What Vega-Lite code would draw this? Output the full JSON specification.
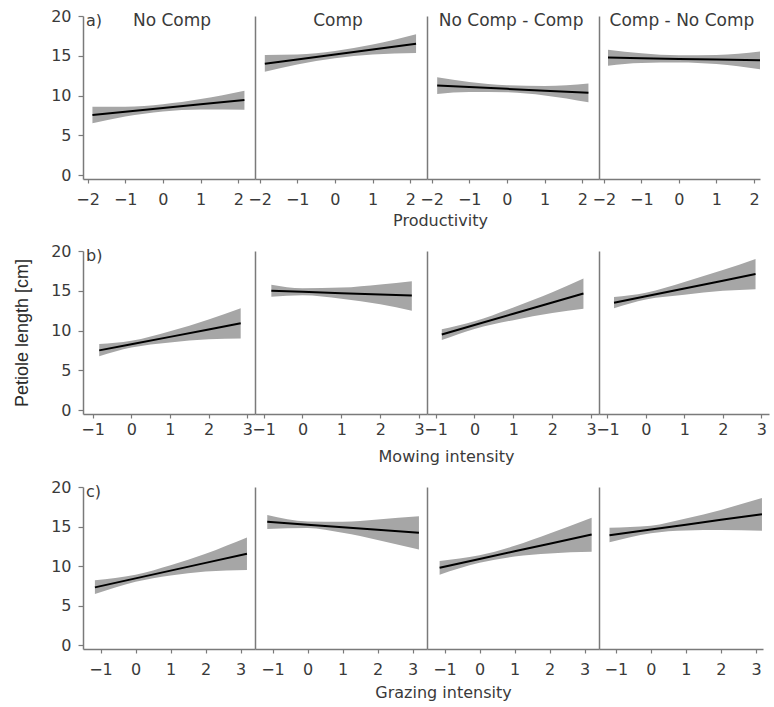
{
  "$schema": "https://vega.github.io/schema/vega-lite/v6.json",
  "padding": {"left": 13, "top": 8, "right": 4, "bottom": 5},
  "background": "white",
  "config": {
    "view": {"stroke": null},
    "axis": {"grid": false, "domainColor": "#7a7a7a", "domainWidth": 1.5, "tickColor": "#7a7a7a", "tickWidth": 1.2, "labelColor": "#3a3a3a", "labelFont": "DejaVu Sans", "labelFontSize": 16, "titleFont": "DejaVu Sans", "titleFontSize": 16, "titleFontWeight": "normal", "titleColor": "#3a3a3a", "labelFlush": false, "labelOverlap": false, "tickSize": 4},
    "text": {"font": "DejaVu Sans", "color": "#3a3a3a"}
  },
  "datasets": {
    "d": [
      {"r": "a", "p": "No Comp", "x": -1.87, "fit": 7.56, "lo": 6.5, "hi": 8.6},
      {"r": "a", "p": "No Comp", "x": -1, "fit": 7.97, "lo": 7.35, "hi": 8.6},
      {"r": "a", "p": "No Comp", "x": 0, "fit": 8.44, "lo": 8.0, "hi": 8.9},
      {"r": "a", "p": "No Comp", "x": 1, "fit": 8.9, "lo": 8.25, "hi": 9.55},
      {"r": "a", "p": "No Comp", "x": 2.16, "fit": 9.45, "lo": 8.2, "hi": 10.6},
      {"r": "a", "p": "Comp", "x": -1.86, "fit": 14.0, "lo": 13.0, "hi": 15.1},
      {"r": "a", "p": "Comp", "x": -1, "fit": 14.53, "lo": 13.9, "hi": 15.15},
      {"r": "a", "p": "Comp", "x": 0, "fit": 15.15, "lo": 14.7, "hi": 15.6},
      {"r": "a", "p": "Comp", "x": 1, "fit": 15.78, "lo": 15.15, "hi": 16.4},
      {"r": "a", "p": "Comp", "x": 2.15, "fit": 16.5, "lo": 15.35, "hi": 17.7},
      {"r": "a", "p": "No Comp - Comp", "x": -1.85, "fit": 11.27, "lo": 10.2, "hi": 12.3},
      {"r": "a", "p": "No Comp - Comp", "x": -1, "fit": 11.07, "lo": 10.45, "hi": 11.7},
      {"r": "a", "p": "No Comp - Comp", "x": 0, "fit": 10.84, "lo": 10.4, "hi": 11.3},
      {"r": "a", "p": "No Comp - Comp", "x": 1, "fit": 10.61, "lo": 10.0, "hi": 11.2},
      {"r": "a", "p": "No Comp - Comp", "x": 2.16, "fit": 10.34, "lo": 9.15, "hi": 11.5},
      {"r": "a", "p": "Comp - No Comp", "x": -1.89, "fit": 14.77, "lo": 13.75, "hi": 15.75},
      {"r": "a", "p": "Comp - No Comp", "x": -1, "fit": 14.69, "lo": 14.1, "hi": 15.3},
      {"r": "a", "p": "Comp - No Comp", "x": 0, "fit": 14.6, "lo": 14.15, "hi": 15.05},
      {"r": "a", "p": "Comp - No Comp", "x": 1, "fit": 14.52, "lo": 13.95, "hi": 15.1},
      {"r": "a", "p": "Comp - No Comp", "x": 2.16, "fit": 14.43, "lo": 13.3, "hi": 15.55},
      {"r": "b", "p": "No Comp", "x": -0.83, "fit": 7.5, "lo": 6.75, "hi": 8.3},
      {"r": "b", "p": "No Comp", "x": 0, "fit": 8.27, "lo": 7.85, "hi": 8.7},
      {"r": "b", "p": "No Comp", "x": 1, "fit": 9.2, "lo": 8.5, "hi": 9.9},
      {"r": "b", "p": "No Comp", "x": 2, "fit": 10.13, "lo": 8.9, "hi": 11.4},
      {"r": "b", "p": "No Comp", "x": 2.83, "fit": 10.9, "lo": 9.0, "hi": 12.8},
      {"r": "b", "p": "Comp", "x": -0.8, "fit": 15.0, "lo": 14.25, "hi": 15.75},
      {"r": "b", "p": "Comp", "x": 0, "fit": 14.87, "lo": 14.45, "hi": 15.3},
      {"r": "b", "p": "Comp", "x": 1, "fit": 14.7, "lo": 14.0, "hi": 15.4},
      {"r": "b", "p": "Comp", "x": 2, "fit": 14.53, "lo": 13.3, "hi": 15.8},
      {"r": "b", "p": "Comp", "x": 2.81, "fit": 14.4, "lo": 12.5, "hi": 16.2},
      {"r": "b", "p": "No Comp - Comp", "x": -0.84, "fit": 9.5, "lo": 8.8, "hi": 10.15},
      {"r": "b", "p": "No Comp - Comp", "x": 0, "fit": 10.69, "lo": 10.2, "hi": 11.15},
      {"r": "b", "p": "No Comp - Comp", "x": 1, "fit": 12.11, "lo": 11.3, "hi": 12.9},
      {"r": "b", "p": "No Comp - Comp", "x": 2, "fit": 13.53, "lo": 12.2, "hi": 14.8},
      {"r": "b", "p": "No Comp - Comp", "x": 2.8, "fit": 14.66, "lo": 12.75, "hi": 16.55},
      {"r": "b", "p": "Comp - No Comp", "x": -0.83, "fit": 13.5, "lo": 12.8, "hi": 14.2},
      {"r": "b", "p": "Comp - No Comp", "x": 0, "fit": 14.31, "lo": 13.9, "hi": 14.75},
      {"r": "b", "p": "Comp - No Comp", "x": 1, "fit": 15.29, "lo": 14.5, "hi": 16.1},
      {"r": "b", "p": "Comp - No Comp", "x": 2, "fit": 16.27, "lo": 15.0, "hi": 17.6},
      {"r": "b", "p": "Comp - No Comp", "x": 2.85, "fit": 17.1, "lo": 15.2, "hi": 19.0},
      {"r": "c", "p": "No Comp", "x": -1.16, "fit": 7.3, "lo": 6.45, "hi": 8.2},
      {"r": "c", "p": "No Comp", "x": 0, "fit": 8.44, "lo": 8.0, "hi": 8.9},
      {"r": "c", "p": "No Comp", "x": 1, "fit": 9.42, "lo": 8.8, "hi": 10.1},
      {"r": "c", "p": "No Comp", "x": 2, "fit": 10.4, "lo": 9.3, "hi": 11.55},
      {"r": "c", "p": "No Comp", "x": 3.18, "fit": 11.55, "lo": 9.5, "hi": 13.6},
      {"r": "c", "p": "Comp", "x": -1.15, "fit": 15.6, "lo": 14.7, "hi": 16.45},
      {"r": "c", "p": "Comp", "x": 0, "fit": 15.23, "lo": 14.8, "hi": 15.65},
      {"r": "c", "p": "Comp", "x": 1, "fit": 14.9, "lo": 14.2, "hi": 15.6},
      {"r": "c", "p": "Comp", "x": 2, "fit": 14.58, "lo": 13.3, "hi": 15.9},
      {"r": "c", "p": "Comp", "x": 3.18, "fit": 14.2, "lo": 12.1, "hi": 16.3},
      {"r": "c", "p": "No Comp - Comp", "x": -1.14, "fit": 9.77, "lo": 8.9, "hi": 10.65},
      {"r": "c", "p": "No Comp - Comp", "x": 0, "fit": 10.88, "lo": 10.4, "hi": 11.35},
      {"r": "c", "p": "No Comp - Comp", "x": 1, "fit": 11.86, "lo": 11.2, "hi": 12.55},
      {"r": "c", "p": "No Comp - Comp", "x": 2, "fit": 12.83, "lo": 11.6, "hi": 14.1},
      {"r": "c", "p": "No Comp - Comp", "x": 3.2, "fit": 14.0, "lo": 11.8, "hi": 16.1},
      {"r": "c", "p": "Comp - No Comp", "x": -1.18, "fit": 13.9, "lo": 13.0, "hi": 14.85},
      {"r": "c", "p": "Comp - No Comp", "x": 0, "fit": 14.62, "lo": 14.15, "hi": 15.1},
      {"r": "c", "p": "Comp - No Comp", "x": 1, "fit": 15.23, "lo": 14.5, "hi": 16.0},
      {"r": "c", "p": "Comp - No Comp", "x": 2, "fit": 15.85, "lo": 14.55, "hi": 17.1},
      {"r": "c", "p": "Comp - No Comp", "x": 3.17, "fit": 16.56, "lo": 14.45, "hi": 18.6}
    ],
    "labels": [
      {"r": "a", "p": "No Comp", "t": "a)", "kind": "row"},
      {"r": "a", "p": "No Comp", "t": "No Comp", "kind": "col"},
      {"r": "a", "p": "Comp", "t": "Comp", "kind": "col"},
      {"r": "a", "p": "No Comp - Comp", "t": "No Comp - Comp", "kind": "col"},
      {"r": "a", "p": "Comp - No Comp", "t": "Comp - No Comp", "kind": "col"},
      {"r": "b", "p": "No Comp", "t": "b)", "kind": "row"},
      {"r": "c", "p": "No Comp", "t": "c)", "kind": "row"}
    ]
  },
  "spacing": 15,
  "vconcat": [
    {
      "bounds": "flush",
      "spacing": 0,
      "hconcat": [
        {
          "width": 172, "height": 163,
          "layer": [
            {"data": {"name": "d"}, "transform": [{"filter": "datum.r == 'a' && datum.p == 'No Comp'"}],
             "mark": {"type": "area", "color": "#a6a6a6", "interpolate": "monotone"},
             "encoding": {"x": {"field": "x", "type": "quantitative", "scale": {"domain": [-2.12, 2.44], "nice": false, "zero": false}, "axis": {"values": [-2, -1, 0, 1, 2], "title": null, "labelPadding": 8}},
               "y": {"field": "lo", "type": "quantitative", "scale": {"domain": [-0.5, 20], "nice": false, "zero": false}, "axis": {"values": [0, 5, 10, 15, 20], "title": null, "tickSize": 5, "labelPadding": 7}}, "y2": {"field": "hi"}}},
            {"data": {"name": "d"}, "transform": [{"filter": "datum.r == 'a' && datum.p == 'No Comp'"}],
             "mark": {"type": "line", "color": "#000000", "strokeWidth": 2},
             "encoding": {"x": {"field": "x", "type": "quantitative"}, "y": {"field": "fit", "type": "quantitative"}}},
            {"data": {"name": "labels"}, "transform": [{"filter": "datum.r == 'a' && datum.kind == 'row'"}],
             "mark": {"type": "text", "align": "left", "baseline": "middle", "dx": 3, "fontSize": 16},
             "encoding": {"x": {"datum": -2.12}, "y": {"datum": 19.4}, "text": {"field": "t"}}},
            {"data": {"name": "labels"}, "transform": [{"filter": "datum.r == 'a' && datum.kind == 'col' && datum.p == 'No Comp'"}],
             "mark": {"type": "text", "align": "center", "baseline": "middle", "fontSize": 17},
             "encoding": {"x": {"datum": 0.24}, "y": {"datum": 19.4}, "text": {"field": "t"}}}
          ]
        },
        {
          "width": 172, "height": 163,
          "layer": [
            {"data": {"name": "d"}, "transform": [{"filter": "datum.r == 'a' && datum.p == 'Comp'"}],
             "mark": {"type": "area", "color": "#a6a6a6", "interpolate": "monotone"},
             "encoding": {"x": {"field": "x", "type": "quantitative", "scale": {"domain": [-2.12, 2.44], "nice": false, "zero": false}, "axis": {"values": [-2, -1, 0, 1, 2], "title": null, "labelPadding": 8}},
               "y": {"field": "lo", "type": "quantitative", "scale": {"domain": [-0.5, 20], "nice": false, "zero": false}, "axis": {"title": null, "labels": false, "ticks": false}}, "y2": {"field": "hi"}}},
            {"data": {"name": "d"}, "transform": [{"filter": "datum.r == 'a' && datum.p == 'Comp'"}],
             "mark": {"type": "line", "color": "#000000", "strokeWidth": 2},
             "encoding": {"x": {"field": "x", "type": "quantitative"}, "y": {"field": "fit", "type": "quantitative"}}},
            {"data": {"name": "labels"}, "transform": [{"filter": "datum.r == 'a' && datum.kind == 'col' && datum.p == 'Comp'"}],
             "mark": {"type": "text", "align": "center", "baseline": "middle", "fontSize": 17},
             "encoding": {"x": {"datum": 0.08}, "y": {"datum": 19.4}, "text": {"field": "t"}}}
          ]
        },
        {
          "width": 172, "height": 163,
          "layer": [
            {"data": {"name": "d"}, "transform": [{"filter": "datum.r == 'a' && datum.p == 'No Comp - Comp'"}],
             "mark": {"type": "area", "color": "#a6a6a6", "interpolate": "monotone"},
             "encoding": {"x": {"field": "x", "type": "quantitative", "scale": {"domain": [-2.12, 2.44], "nice": false, "zero": false}, "axis": {"values": [-2, -1, 0, 1, 2], "title": "Productivity", "labelPadding": 8, "titleX": 13, "titleY": 41, "titleBaseline": "middle", "titleAlign": "center"}},
               "y": {"field": "lo", "type": "quantitative", "scale": {"domain": [-0.5, 20], "nice": false, "zero": false}, "axis": {"title": null, "labels": false, "ticks": false}}, "y2": {"field": "hi"}}},
            {"data": {"name": "d"}, "transform": [{"filter": "datum.r == 'a' && datum.p == 'No Comp - Comp'"}],
             "mark": {"type": "line", "color": "#000000", "strokeWidth": 2},
             "encoding": {"x": {"field": "x", "type": "quantitative"}, "y": {"field": "fit", "type": "quantitative"}}},
            {"data": {"name": "labels"}, "transform": [{"filter": "datum.r == 'a' && datum.kind == 'col' && datum.p == 'No Comp - Comp'"}],
             "mark": {"type": "text", "align": "center", "baseline": "middle", "fontSize": 17},
             "encoding": {"x": {"datum": 0.11}, "y": {"datum": 19.4}, "text": {"field": "t"}}}
          ]
        },
        {
          "width": 161, "height": 163,
          "layer": [
            {"data": {"name": "d"}, "transform": [{"filter": "datum.r == 'a' && datum.p == 'Comp - No Comp'"}],
             "mark": {"type": "area", "color": "#a6a6a6", "interpolate": "monotone"},
             "encoding": {"x": {"field": "x", "type": "quantitative", "scale": {"domain": [-2.13, 2.16], "nice": false, "zero": false}, "axis": {"values": [-2, -1, 0, 1, 2], "title": null, "labelPadding": 8}},
               "y": {"field": "lo", "type": "quantitative", "scale": {"domain": [-0.5, 20], "nice": false, "zero": false}, "axis": {"title": null, "labels": false, "ticks": false}}, "y2": {"field": "hi"}}},
            {"data": {"name": "d"}, "transform": [{"filter": "datum.r == 'a' && datum.p == 'Comp - No Comp'"}],
             "mark": {"type": "line", "color": "#000000", "strokeWidth": 2},
             "encoding": {"x": {"field": "x", "type": "quantitative"}, "y": {"field": "fit", "type": "quantitative"}}},
            {"data": {"name": "labels"}, "transform": [{"filter": "datum.r == 'a' && datum.kind == 'col' && datum.p == 'Comp - No Comp'"}],
             "mark": {"type": "text", "align": "center", "baseline": "middle", "fontSize": 17},
             "encoding": {"x": {"datum": 0.08}, "y": {"datum": 19.4}, "text": {"field": "t"}}}
          ]
        }
      ]
    },
    {
      "bounds": "flush",
      "spacing": 0,
      "hconcat": [
        {
          "width": 172, "height": 163,
          "layer": [
            {"data": {"name": "d"}, "transform": [{"filter": "datum.r == 'b' && datum.p == 'No Comp'"}],
             "mark": {"type": "area", "color": "#a6a6a6", "interpolate": "monotone"},
             "encoding": {"x": {"field": "x", "type": "quantitative", "scale": {"domain": [-1.25, 3.2], "nice": false, "zero": false}, "axis": {"values": [-1, 0, 1, 2, 3], "title": null, "labelPadding": 3}},
               "y": {"field": "lo", "type": "quantitative", "scale": {"domain": [-0.5, 20], "nice": false, "zero": false}, "axis": {"values": [0, 5, 10, 15, 20], "title": "Petiole length [cm]", "titleFont": "Liberation Sans", "titleFontSize": 18, "titleColor": "#2a2a2a", "titlePadding": 19, "tickSize": 5, "labelPadding": 7}}, "y2": {"field": "hi"}}},
            {"data": {"name": "d"}, "transform": [{"filter": "datum.r == 'b' && datum.p == 'No Comp'"}],
             "mark": {"type": "line", "color": "#000000", "strokeWidth": 2},
             "encoding": {"x": {"field": "x", "type": "quantitative"}, "y": {"field": "fit", "type": "quantitative"}}},
            {"data": {"name": "labels"}, "transform": [{"filter": "datum.r == 'b' && datum.kind == 'row'"}],
             "mark": {"type": "text", "align": "left", "baseline": "middle", "dx": 3, "fontSize": 16},
             "encoding": {"x": {"datum": -1.25}, "y": {"datum": 19.4}, "text": {"field": "t"}}}
          ]
        },
        {
          "width": 172, "height": 163,
          "layer": [
            {"data": {"name": "d"}, "transform": [{"filter": "datum.r == 'b' && datum.p == 'Comp'"}],
             "mark": {"type": "area", "color": "#a6a6a6", "interpolate": "monotone"},
             "encoding": {"x": {"field": "x", "type": "quantitative", "scale": {"domain": [-1.22, 3.2], "nice": false, "zero": false}, "axis": {"values": [-1, 0, 1, 2, 3], "title": null, "labelPadding": 3}},
               "y": {"field": "lo", "type": "quantitative", "scale": {"domain": [-0.5, 20], "nice": false, "zero": false}, "axis": {"title": null, "labels": false, "ticks": false}}, "y2": {"field": "hi"}}},
            {"data": {"name": "d"}, "transform": [{"filter": "datum.r == 'b' && datum.p == 'Comp'"}],
             "mark": {"type": "line", "color": "#000000", "strokeWidth": 2},
             "encoding": {"x": {"field": "x", "type": "quantitative"}, "y": {"field": "fit", "type": "quantitative"}}}
          ]
        },
        {
          "width": 172, "height": 163,
          "layer": [
            {"data": {"name": "d"}, "transform": [{"filter": "datum.r == 'b' && datum.p == 'No Comp - Comp'"}],
             "mark": {"type": "area", "color": "#a6a6a6", "interpolate": "monotone"},
             "encoding": {"x": {"field": "x", "type": "quantitative", "scale": {"domain": [-1.22, 3.2], "nice": false, "zero": false}, "axis": {"values": [-1, 0, 1, 2, 3], "title": "Mowing intensity", "labelPadding": 3, "titleX": 19, "titleY": 42, "titleBaseline": "middle", "titleAlign": "center"}},
               "y": {"field": "lo", "type": "quantitative", "scale": {"domain": [-0.5, 20], "nice": false, "zero": false}, "axis": {"title": null, "labels": false, "ticks": false}}, "y2": {"field": "hi"}}},
            {"data": {"name": "d"}, "transform": [{"filter": "datum.r == 'b' && datum.p == 'No Comp - Comp'"}],
             "mark": {"type": "line", "color": "#000000", "strokeWidth": 2},
             "encoding": {"x": {"field": "x", "type": "quantitative"}, "y": {"field": "fit", "type": "quantitative"}}}
          ]
        },
        {
          "width": 170, "height": 163,
          "layer": [
            {"data": {"name": "d"}, "transform": [{"filter": "datum.r == 'b' && datum.p == 'Comp - No Comp'"}],
             "mark": {"type": "area", "color": "#a6a6a6", "interpolate": "monotone"},
             "encoding": {"x": {"field": "x", "type": "quantitative", "scale": {"domain": [-1.22, 3.2], "nice": false, "zero": false}, "axis": {"values": [-1, 0, 1, 2, 3], "title": null, "labelPadding": 3}},
               "y": {"field": "lo", "type": "quantitative", "scale": {"domain": [-0.5, 20], "nice": false, "zero": false}, "axis": {"title": null, "labels": false, "ticks": false}}, "y2": {"field": "hi"}}},
            {"data": {"name": "d"}, "transform": [{"filter": "datum.r == 'b' && datum.p == 'Comp - No Comp'"}],
             "mark": {"type": "line", "color": "#000000", "strokeWidth": 2},
             "encoding": {"x": {"field": "x", "type": "quantitative"}, "y": {"field": "fit", "type": "quantitative"}}}
          ]
        }
      ]
    },
    {
      "bounds": "flush",
      "spacing": 0,
      "hconcat": [
        {
          "width": 172, "height": 162,
          "layer": [
            {"data": {"name": "d"}, "transform": [{"filter": "datum.r == 'c' && datum.p == 'No Comp'"}],
             "mark": {"type": "area", "color": "#a6a6a6", "interpolate": "monotone"},
             "encoding": {"x": {"field": "x", "type": "quantitative", "scale": {"domain": [-1.5, 3.41], "nice": false, "zero": false}, "axis": {"values": [-1, 0, 1, 2, 3], "title": null, "labelPadding": 8}},
               "y": {"field": "lo", "type": "quantitative", "scale": {"domain": [-0.5, 20], "nice": false, "zero": false}, "axis": {"values": [0, 5, 10, 15, 20], "title": null, "tickSize": 5, "labelPadding": 7}}, "y2": {"field": "hi"}}},
            {"data": {"name": "d"}, "transform": [{"filter": "datum.r == 'c' && datum.p == 'No Comp'"}],
             "mark": {"type": "line", "color": "#000000", "strokeWidth": 2},
             "encoding": {"x": {"field": "x", "type": "quantitative"}, "y": {"field": "fit", "type": "quantitative"}}},
            {"data": {"name": "labels"}, "transform": [{"filter": "datum.r == 'c' && datum.kind == 'row'"}],
             "mark": {"type": "text", "align": "left", "baseline": "middle", "dx": 3, "fontSize": 16},
             "encoding": {"x": {"datum": -1.5}, "y": {"datum": 19.4}, "text": {"field": "t"}}}
          ]
        },
        {
          "width": 172, "height": 162,
          "layer": [
            {"data": {"name": "d"}, "transform": [{"filter": "datum.r == 'c' && datum.p == 'Comp'"}],
             "mark": {"type": "area", "color": "#a6a6a6", "interpolate": "monotone"},
             "encoding": {"x": {"field": "x", "type": "quantitative", "scale": {"domain": [-1.5, 3.41], "nice": false, "zero": false}, "axis": {"values": [-1, 0, 1, 2, 3], "title": null, "labelPadding": 8}},
               "y": {"field": "lo", "type": "quantitative", "scale": {"domain": [-0.5, 20], "nice": false, "zero": false}, "axis": {"title": null, "labels": false, "ticks": false}}, "y2": {"field": "hi"}}},
            {"data": {"name": "d"}, "transform": [{"filter": "datum.r == 'c' && datum.p == 'Comp'"}],
             "mark": {"type": "line", "color": "#000000", "strokeWidth": 2},
             "encoding": {"x": {"field": "x", "type": "quantitative"}, "y": {"field": "fit", "type": "quantitative"}}}
          ]
        },
        {
          "width": 172, "height": 162,
          "layer": [
            {"data": {"name": "d"}, "transform": [{"filter": "datum.r == 'c' && datum.p == 'No Comp - Comp'"}],
             "mark": {"type": "area", "color": "#a6a6a6", "interpolate": "monotone"},
             "encoding": {"x": {"field": "x", "type": "quantitative", "scale": {"domain": [-1.5, 3.41], "nice": false, "zero": false}, "axis": {"values": [-1, 0, 1, 2, 3], "title": "Grazing intensity", "labelPadding": 8, "titleX": 16, "titleY": 43, "titleBaseline": "middle", "titleAlign": "center"}},
               "y": {"field": "lo", "type": "quantitative", "scale": {"domain": [-0.5, 20], "nice": false, "zero": false}, "axis": {"title": null, "labels": false, "ticks": false}}, "y2": {"field": "hi"}}},
            {"data": {"name": "d"}, "transform": [{"filter": "datum.r == 'c' && datum.p == 'No Comp - Comp'"}],
             "mark": {"type": "line", "color": "#000000", "strokeWidth": 2},
             "encoding": {"x": {"field": "x", "type": "quantitative"}, "y": {"field": "fit", "type": "quantitative"}}}
          ]
        },
        {
          "width": 164, "height": 162,
          "layer": [
            {"data": {"name": "d"}, "transform": [{"filter": "datum.r == 'c' && datum.p == 'Comp - No Comp'"}],
             "mark": {"type": "area", "color": "#a6a6a6", "interpolate": "monotone"},
             "encoding": {"x": {"field": "x", "type": "quantitative", "scale": {"domain": [-1.48, 3.2], "nice": false, "zero": false}, "axis": {"values": [-1, 0, 1, 2, 3], "title": null, "labelPadding": 8}},
               "y": {"field": "lo", "type": "quantitative", "scale": {"domain": [-0.5, 20], "nice": false, "zero": false}, "axis": {"title": null, "labels": false, "ticks": false}}, "y2": {"field": "hi"}}},
            {"data": {"name": "d"}, "transform": [{"filter": "datum.r == 'c' && datum.p == 'Comp - No Comp'"}],
             "mark": {"type": "line", "color": "#000000", "strokeWidth": 2},
             "encoding": {"x": {"field": "x", "type": "quantitative"}, "y": {"field": "fit", "type": "quantitative"}}}
          ]
        }
      ]
    }
  ]
}
